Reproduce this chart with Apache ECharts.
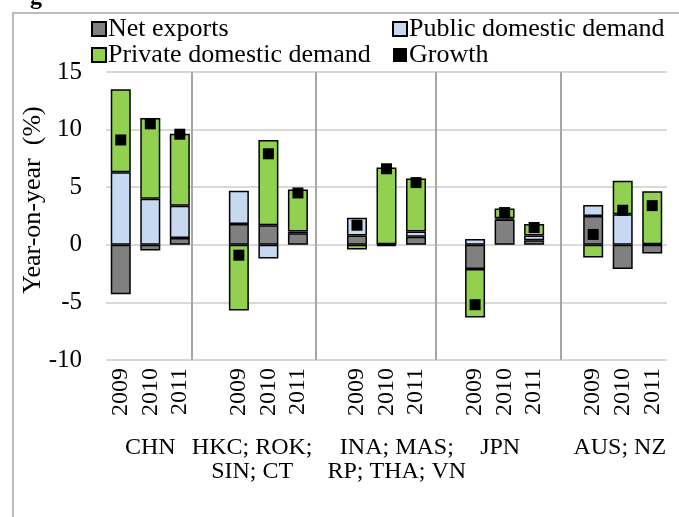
<!DOCTYPE html>
<html><head><meta charset="utf-8">
<script src="https://cdn.jsdelivr.net/npm/echarts@6/dist/echarts.min.js"></script>
<style>html,body{margin:0;padding:0;background:#fff}#c{width:679px;height:517px}</style>
</head><body><div id="c"></div>
<script>
// ---- data ----
const slots = ['2009','2010','2011','','2009','2010','2011','','2009','2010','2011','','2009','2010','2011','','2009','2010','2011'];
const groupNames = ['CHN', 'HKC; ROK;\nSIN; CT', 'INA; MAS;\nRP; THA; VN', 'JPN', 'AUS; NZ'];
const groupLabelSlots = [1, 4.45, 9.35, 12.85, 16.9];
const separatorSlots = [2.42, 6.6, 10.67, 14.9];
const netExports = [-4.3, -0.5, 0.6, null, 1.8, 1.7, 1.0, null, 0.8, -0.1, 0.7, null, -2.1, 2.2, 0.4, null, 2.5, -2.1, -0.75];
const publicDemand = [6.3, 4.0, 2.8, null, 2.9, -1.2, 0.15, null, 1.55, 0.05, 0.45, null, 0.5, 0.1, 0.4, null, 0.95, 2.65, 0.05];
const privateDemand = [7.2, 7.0, 6.25, null, -5.7, 7.4, 3.65, null, -0.4, 6.65, 4.6, null, -4.2, 0.85, 1.0, null, -1.1, 2.9, 4.6];
const growth = [9.1, 10.5, 9.6, null, -0.9, 7.9, 4.5, null, 1.7, 6.6, 5.4, null, -5.2, 2.8, 1.5, null, 0.9, 3.0, 3.4];
const yMin = -10, yMax = 15, yStep = 5;

const FONT = '"Liberation Serif", "Times New Roman", serif';
const chart = echarts.init(document.getElementById('c'));
const grid = {left: 106, right: 12, top: 72, bottom: 157};
const barStyle = c => ({color: c, borderColor: '#000', borderWidth: 1.5});
const legendText = {fontFamily: FONT, fontSize: 26, color: '#000', lineHeight: 24, padding: [0, 0, 0, -3]};

chart.setOption({
  animation: false,
  backgroundColor: '#fff',
  grid: grid,
  legend: [
    {data: [{name: 'Net exports', icon: 'rect'}, {name: 'Private domestic demand', icon: 'rect'}],
     orient: 'vertical', left: 86, top: 11, itemGap: 0, itemWidth: 14, itemHeight: 14, textStyle: legendText},
    {data: [{name: 'Public domestic demand', icon: 'rect'}, {name: 'Growth', icon: 'rect', itemStyle: {borderWidth: 0}}],
     orient: 'vertical', left: 387, top: 11, itemGap: 0, itemWidth: 14, itemHeight: 14, textStyle: legendText}
  ],
  xAxis: [
    {type: 'category', data: slots, boundaryGap: true,
     axisLine: {show: false}, axisTick: {show: false},
     axisLabel: {rotate: 90, margin: 8, interval: 0, fontFamily: FONT, fontSize: 24, color: '#000'}},
    {type: 'value', min: -0.5, max: 18.5, show: false}
  ],
  yAxis: {type: 'value', min: yMin, max: yMax, interval: yStep,
    axisLine: {show: false}, axisTick: {show: false},
    axisLabel: {margin: 24, fontFamily: FONT, fontSize: 25, color: '#000'},
    splitLine: {lineStyle: {color: '#d9d9d9', width: 2}}},
  series: [
    {name: 'Net exports', type: 'bar', stack: 's', stackStrategy: 'samesign', barWidth: 20, data: netExports, itemStyle: barStyle('#808080')},
    {name: 'Public domestic demand', type: 'bar', stack: 's', stackStrategy: 'samesign', barWidth: 20, data: publicDemand, itemStyle: barStyle('#c6d9f0')},
    {name: 'Private domestic demand', type: 'bar', stack: 's', stackStrategy: 'samesign', barWidth: 20, data: privateDemand, itemStyle: barStyle('#92d050')},
    {name: 'Growth', type: 'scatter', symbol: 'rect', symbolSize: 11, data: growth, itemStyle: {color: '#000', opacity: 1}, z: 5},
    {type: 'line', xAxisIndex: 1, data: [], silent: true,
     markLine: {symbol: 'none', silent: true, label: {show: false},
       lineStyle: {color: '#a6a6a6', width: 2, type: 'solid'},
       data: separatorSlots.map(v => ({xAxis: v}))}}
  ]
});

// text decorations placed from the axes
const gfx = [
  {type: 'rect', shape: {x: 13, y: 13, width: 700, height: 600}, style: {fill: null, stroke: '#a6a6a6', lineWidth: 1.5}, silent: true},
  {type: 'text', left: 30, top: -14, style: {text: 'g', font: 'bold 24px ' + FONT, fill: '#000'}},
  {type: 'text', x: 33, y: 200, rotation: Math.PI / 2,
   style: {text: 'Year-on-year  (%)', font: '26px ' + FONT, fill: '#000', align: 'center', verticalAlign: 'middle'}}
];
groupNames.forEach((name, i) => {
  const px = chart.convertToPixel({xAxisIndex: 1}, groupLabelSlots[i]);
  gfx.push({type: 'text', x: px, y: 436,
    style: {text: name, font: '24px ' + FONT, fill: '#000', align: 'center', verticalAlign: 'top', lineHeight: 24}});
});
chart.setOption({graphic: gfx});
</script></body></html>
